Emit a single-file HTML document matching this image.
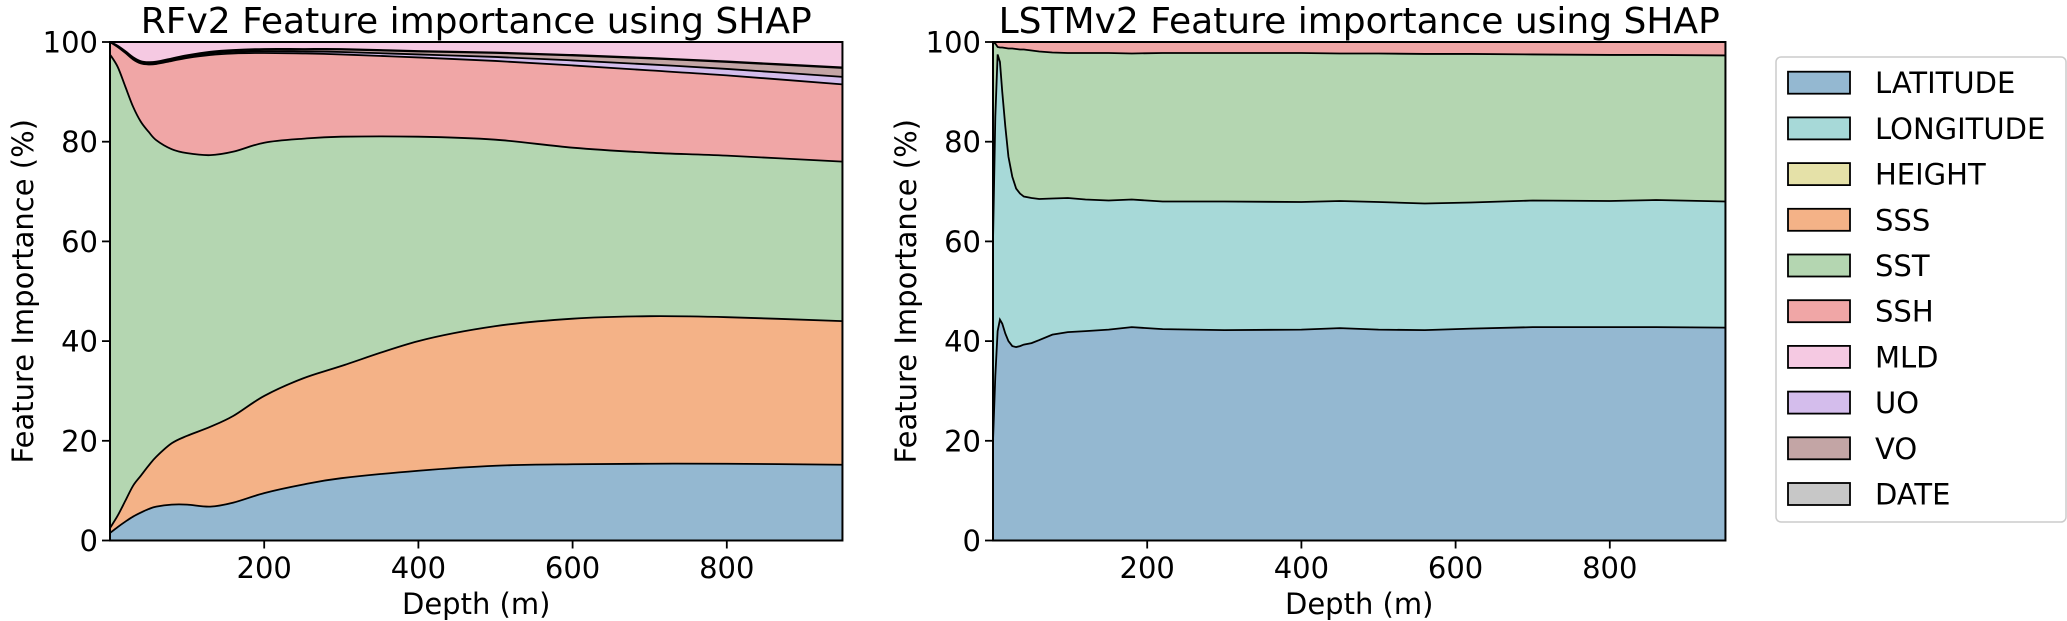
<!DOCTYPE html>
<html><head><meta charset="utf-8"><style>
html,body{margin:0;padding:0;background:#fff;}
svg{display:block;font-family:"DejaVu Sans","Liberation Sans",sans-serif;}
</style></head><body>
<svg id="chart" width="2067" height="621" viewBox="0 0 2067 621" xmlns="http://www.w3.org/2000/svg">
<rect width="2067" height="621" fill="#fff"/>
<g id="p1"></g>
<g id="p2"></g>
<g id="legend"></g>
</svg>
<script>
const featureNames = ["LATITUDE","LONGITUDE","HEIGHT","SSS","SST","SSH","MLD","UO","VO","DATE"];
const featureColors = ["#94b8d1","#a7d9d8","#e5e1a8","#f4b287","#b4d6b1","#f0a6a6","#f5c9e2","#d4bdec","#c3a5a5","#c7c7c7"];
const xTicks = [200,400,600,800];
const yTicks = [0,20,40,60,80,100];

// RF panel data (percent per feature)
const rfDepth = [0,10,20,30,40,50,60,80,100,130,160,200,250,300,400,500,600,700,800,950];
const rfLAT = [1.5,2.7,3.8,4.8,5.6,6.3,6.8,7.2,7.2,6.8,7.6,9.5,11.2,12.5,14,15,15.3,15.4,15.4,15.2];
const rfSSS = [1.0,2.3,4.2,6.2,7.4,8.7,10.0,12.3,13.8,16.0,17.4,19.5,21.3,22.5,26,28,29.2,29.6,29.4,28.8];
const rfSST = [95,90,83,76,71,67,63.5,59,56.7,54.5,53,50.8,48.1,46,41,37.4,34.3,32.8,32.4,32];
const rfSSH = [2.5,4,6.8,9.5,11.7,13.5,15.3,17.7,19.1,20.1,19.7,18,17.1,16.5,15.9,15.8,16.5,16.5,16.1,15.5];
const rfUO = [0,0.1,0.15,0.2,0.2,0.2,0.2,0.2,0.25,0.3,0.3,0.35,0.4,0.5,0.6,0.8,1.0,1.2,1.3,1.5];
const rfVO = [0,0.05,0.1,0.15,0.15,0.15,0.15,0.2,0.2,0.25,0.3,0.35,0.4,0.5,0.6,0.8,1.0,1.2,1.4,1.8];
const rfDATE = [0,0.1,0.1,0.1,0.1,0.1,0.1,0.1,0.1,0.1,0.1,0.1,0.1,0.1,0.1,0.1,0.1,0.1,0.1,0.1];
const rfMLD = [0,0.75,1.85,3.05,3.85,4.05,3.95,3.3,2.65,1.95,1.6,1.4,1.4,1.4,1.8,2.1,2.6,3.2,3.9,5.1];

// LSTM panel data
const lsDepth = [0,3,6,9,12,16,20,25,30,35,40,50,60,77,97,120,150,180,220,300,400,450,500,560,620,700,800,860,950];
const lsLAT = [20,33,42,44.3,43.5,41.5,40,39,38.8,39,39.3,39.6,40.2,41.3,41.8,42,42.3,42.8,42.4,42.2,42.3,42.6,42.3,42.2,42.5,42.8,42.8,42.8,42.7];
const lsLON = [40,52,55.5,51.7,46.5,41.5,37,34,31.8,30.6,29.7,29.1,28.3,27.3,26.9,26.4,25.9,25.6,25.6,25.8,25.6,25.5,25.6,25.4,25.3,25.4,25.3,25.5,25.3];
const lsSST = [39.8,14.7,1.5,2.9,8.9,15.8,21.7,25.7,28,28.9,29.5,29.6,29.6,29.3,29.1,29.4,29.6,29.3,29.8,29.8,29.9,29.6,29.8,30,29.8,29.3,29.3,29.1,29.3];
const lsSSH = [0.2,0.3,1,1.1,1.1,1.2,1.3,1.3,1.4,1.5,1.5,1.7,1.9,2.1,2.2,2.2,2.2,2.3,2.2,2.2,2.2,2.3,2.3,2.4,2.4,2.5,2.6,2.6,2.7];

const NS = "http://www.w3.org/2000/svg";
function mk(tag, attrs, parent){const e=document.createElementNS(NS,tag);for(const k in attrs)e.setAttribute(k,attrs[k]);parent.appendChild(e);return e;}

const Y0=540.5, Y100=42, XMAX=950;
function makeY(){return v=>Y0-(v/100)*(Y0-Y100);}
function makeX(left){return d=>left+d*0.771;}

function linePts(xs, ys){return xs.map((x,i)=>[x,ys[i]]);}
function pathD(pts, smooth){
  if(!smooth) return pts.map((p,i)=>(i?"L":"M")+p[0].toFixed(2)+","+p[1].toFixed(2)).join("");
  let d="M"+pts[0][0]+","+pts[0][1];
  for(let i=0;i<pts.length-1;i++){
    const p0=pts[Math.max(i-1,0)],p1=pts[i],p2=pts[i+1],p3=pts[Math.min(i+2,pts.length-1)];
    const c1=[p1[0]+(p2[0]-p0[0])/6,p1[1]+(p2[1]-p0[1])/6];
    const c2=[p2[0]-(p3[0]-p1[0])/6,p2[1]-(p3[1]-p1[1])/6];
    d+="C"+c1[0].toFixed(2)+","+c1[1].toFixed(2)+" "+c2[0].toFixed(2)+","+c2[1].toFixed(2)+" "+p2[0].toFixed(2)+","+p2[1].toFixed(2);
  }
  return d;
}

function panel(g, left, depth, layers, smooth, title){
  const X=makeX(left), Y=makeY(), right=X(XMAX);
  const clip=mk("clipPath",{id:"c"+left},g);
  mk("rect",{x:left,y:Y100,width:right-left,height:Y0-Y100},clip);
  const area=mk("g",{"clip-path":"url(#c"+left+")"},g);
  let cum=depth.map(()=>0);
  const xs=depth.map(X);
  const bounds=[];
  layers.forEach(L=>{
    const low=cum.slice();
    cum=cum.map((c,i)=>c+L.vals[i]);
    const up=linePts(xs,cum.map(Y));
    const lo=linePts(xs,low.map(Y)).reverse();
    const dUp=pathD(up,smooth);
    const dLo=pathD(lo,smooth).replace(/^M/,"L");
    const p=mk("path",{d:dUp+dLo+"Z",fill:L.color,stroke:"none"},area);
    
    
    bounds.push(dUp);
  });
  bounds.forEach(d=>{
    const l=mk("path",{d:d,fill:"none",stroke:"#000","stroke-width":1.8},area);
    
    
  });
  const fr=mk("rect",{x:left,y:Y100,width:right-left,height:Y0-Y100,fill:"none",stroke:"#000","stroke-width":2},g);
  
  
  yTicks.forEach(v=>{
    mk("line",{x1:left-8,x2:left,y1:Y(v),y2:Y(v),stroke:"#000","stroke-width":1.8},g);
    const t=mk("text",{x:left-12,y:Y(v)+10.5,"text-anchor":"end","font-size":29},g);
    t.textContent=v;
    
    
  });
  xTicks.forEach(v=>{
    mk("line",{x1:X(v),x2:X(v),y1:Y0,y2:Y0+8,stroke:"#000","stroke-width":1.8},g);
    const t=mk("text",{x:X(v),y:578,"text-anchor":"middle","font-size":29},g);
    t.textContent=v;
    
    
  });
  const xl=mk("text",{x:(left+right)/2,y:614,"text-anchor":"middle","font-size":29},g);
  xl.textContent="Depth (m)";
  
  
  const yl=mk("text",{x:0,y:0,"text-anchor":"middle","font-size":29,transform:"translate("+(left-77)+","+((Y0+Y100)/2)+") rotate(-90)"},g);
  yl.textContent="Feature Importance (%)";
  
  
  const tt=mk("text",{x:(left+right)/2,y:33,"text-anchor":"middle","font-size":36},g);
  tt.textContent=title;
  
  
}

panel(document.getElementById("p1"),110,rfDepth,[
  {name:"LATITUDE",vals:rfLAT,color:featureColors[0]},
  {name:"SSS",vals:rfSSS,color:featureColors[3]},
  {name:"SST",vals:rfSST,color:featureColors[4]},
  {name:"SSH",vals:rfSSH,color:featureColors[5]},
  {name:"UO",vals:rfUO,color:featureColors[7]},
  {name:"VO",vals:rfVO,color:featureColors[8]},
  {name:"DATE",vals:rfDATE,color:featureColors[9]},
  {name:"MLD",vals:rfMLD,color:featureColors[6]}
],true,"RFv2 Feature importance using SHAP");

panel(document.getElementById("p2"),993,lsDepth,[
  {name:"LATITUDE",vals:lsLAT,color:featureColors[0]},
  {name:"LONGITUDE",vals:lsLON,color:featureColors[1]},
  {name:"SST",vals:lsSST,color:featureColors[4]},
  {name:"SSH",vals:lsSSH,color:featureColors[5]}
],false,"LSTMv2 Feature importance using SHAP");

// legend
const lg=document.getElementById("legend");
const box=mk("rect",{x:1776,y:57,width:290,height:465,rx:5,fill:"#fff",stroke:"#cccccc","stroke-width":1.5},lg);


featureNames.forEach((n,i)=>{
  const cy=82.7+i*45.7;
  const r=mk("rect",{x:1788,y:cy-11,width:62,height:22,fill:featureColors[i],stroke:"#000","stroke-width":1.8},lg);
  
  
  const t=mk("text",{x:1875,y:cy+10.5,"font-size":29},lg);
  t.textContent=n;
  
  
});
</script>
</body></html>
